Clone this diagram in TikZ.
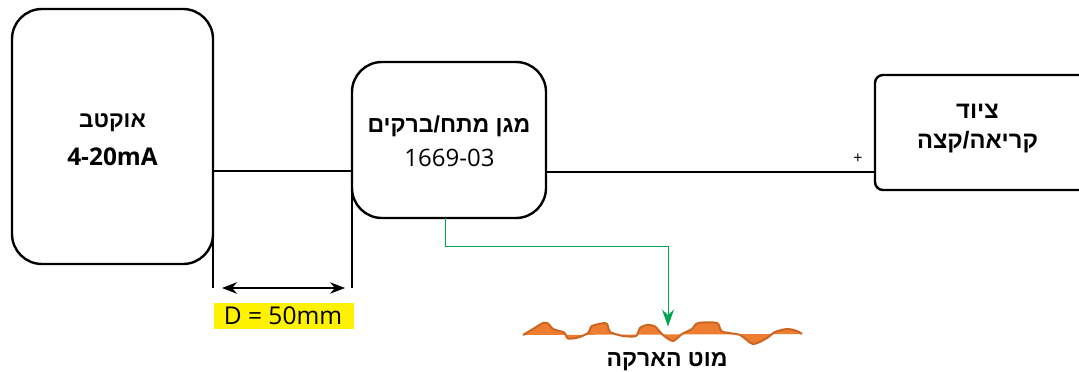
\documentclass[tikz,border=0pt]{standalone}
\usepackage{fontspec}
\usetikzlibrary{arrows.meta,calc}
\setmainfont{Open Sans}
\newfontfamily\hebfont[Script=Hebrew]{Liberation Sans}
\TeXXeTstate=1
\newcommand{\heb}[1]{{\hebfont\bfseries\beginR #1\endR}}
\newcommand{\fsz}[1]{\fontsize{#1}{#1}\selectfont}
\newcommand{\earthprofile}{plot[smooth,tension=.45] coordinates {(523,335) (533,329) (543,323) (548,323.500)
  (553,329) (564,332.500) (568,338.500) (578,337.500) (588,333) (592,326) (605,323) (608,326) (610,332)
  (623,336) (636,336) (640,328) (647,325) (655,326.500) (663,335) (673,341) (682,334) (692,329) (698,323)
  (717,323) (722,331.500) (740,335) (753,344) (767,338) (775,332) (787,329) (797,331) (802,334)}}
\definecolor{gndfill}{HTML}{ED7D31}
\definecolor{gndline}{HTML}{CE6420}
\definecolor{bondgreen}{HTML}{00A651}
\definecolor{dimyellow}{HTML}{FFF200}
\tikzset{
  x=1pt,y=-1pt,
  unit/.style={draw=black,line width=2.4pt,fill=white,inner sep=0pt,outer sep=0pt},
  wire/.style={draw=black,line width=2.1pt},
  dimline/.style={draw=black,line width=1.3pt,{Stealth[length=15pt,width=11.5pt]}-{Stealth[length=15pt,width=11.5pt]}},
  bondwire/.style={draw=bondgreen,line width=1pt,-{Stealth[length=17pt,width=12pt]}},
  tag/.style={inner sep=0pt,outer sep=0pt},
}
\begin{document}
\begin{tikzpicture}
\useasboundingbox (0,0) rectangle (1079,372);
\clip (0,0) rectangle (1079,372);
% equipment blocks
\node[unit,rounded corners=30pt,minimum width=201pt,minimum height=255pt] (sensor) at (112.500,136.500) {};
\node[tag,font=\fsz{22.500}] (sensorname) at (112.500,123) {\heb{אוקטב}};
\node[tag,font=\fsz{24.400}\bfseries] (sensorrange) at (112.500,157) {4-20mA};
\node[unit,rounded corners=30pt,minimum width=194pt,minimum height=156pt] (guard) at (449,140) {};
\node[tag,font=\fsz{23}] (guardname) at (449,126) {\heb{מגן מתח/ברקים}};
\node[tag,font=\fsz{24}] (guardcode) at (449.500,158) {1669-03};
\node[unit,rounded corners=8pt,minimum width=224pt,minimum height=115pt] (reader) at (987,132.500) {};
\node[tag,font=\fsz{23.700}] (readername) at (977.500,111) {\heb{ציוד}};
\node[tag,font=\fsz{23.700}] (readerrole) at (977.500,142) {\heb{קריאה/קצה}};
% signal wiring
\draw[wire] (sensor.east |- 0,171.300) -- (guard.west |- 0,171.300);
\draw[wire] (guard.east |- 0,172.300) -- (reader.west |- 0,172.300);
\node[tag,font=\fsz{16}] (plus) at (858,159) {+};
% separation dimension
\coordinate (tickA) at (sensor.east |- 0,288);
\coordinate (tickB) at (guard.west |- 0,288);
\draw[wire] (sensor.east |- 0,230) -- (tickA);
\draw[wire] (guard.west |- 0,190) -- (tickB);
\draw[dimline] ($(tickA)+(9,0)$) -- ($(tickB)+(-7,0)$);
\node[tag,fill=dimyellow,minimum width=140pt,minimum height=26pt] (distband) at (284,316) {};
\node[tag,font=\fsz{24.500}] (dist) at (283,315.500) {D = 50mm};
% earth bar
\fill[gndfill] \earthprofile -- cycle;
\draw[gndline,line width=2pt,line join=round] \earthprofile;
\coordinate (earthpoint) at (668,326.500);
\draw[bondwire] (guard.south -| 445,0) -- (445,246.500) -- (668,246.500) -- (earthpoint);
\node[tag,font=\fsz{23}] (earthname) at (667,362) {\heb{מוט הארקה}};
\end{tikzpicture}
\end{document}
